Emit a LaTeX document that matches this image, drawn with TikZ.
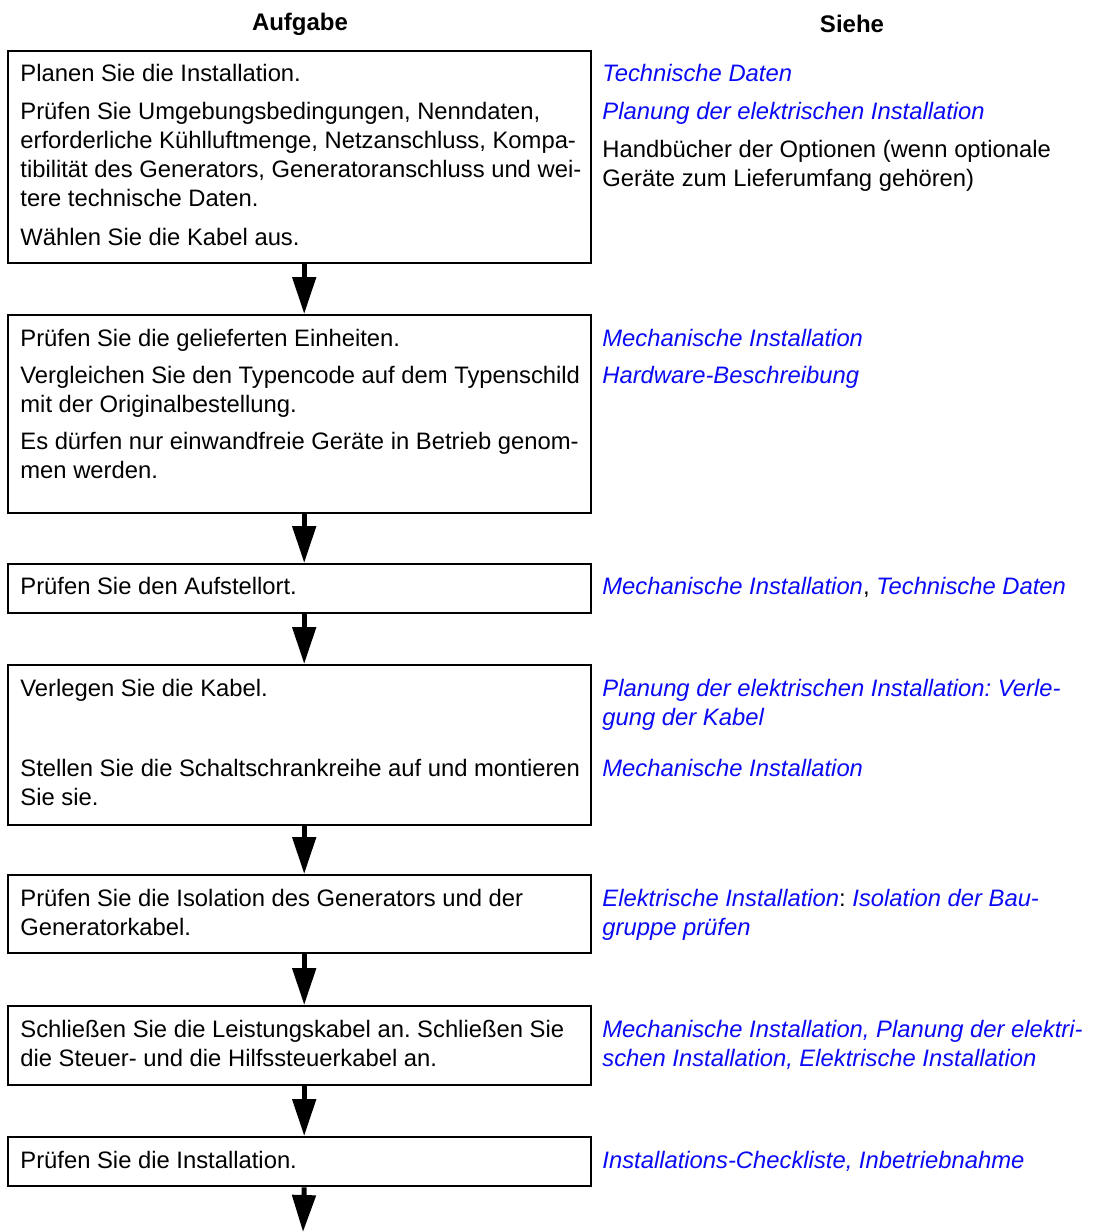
\documentclass[tikz,border=0pt]{standalone}
\usepackage{fontspec}
\setmainfont{Liberation Sans}
\usetikzlibrary{arrows.meta}
\definecolor{linkblue}{RGB}{10,10,245}
\tikzset{
  taskbox/.style={draw, line width=1.2pt, anchor=north west, minimum width=291.5pt, inner sep=0pt},
  tasktext/.style={anchor=base west, align=left, inner sep=0pt, font=\fontsize{11.9}{14.5}\selectfont\frenchspacing},
  seetext/.style={tasktext, text=linkblue, font=\fontsize{11.9}{14.5}\selectfont\frenchspacing\itshape},
  colhead/.style={inner sep=0pt, font=\fontsize{12}{14.5}\selectfont\bfseries},
  flow/.style={line width=2.5pt, -{Triangle[width=11.5pt,length=18.5pt]}}
}
\newcommand{\blk}[1]{{\color{black}\upshape #1}}

\begin{document}
\begin{tikzpicture}[x=0.5pt,y=-0.5pt]
  \useasboundingbox (0,0) rectangle (1093,1232);
  % column heads
  \node[colhead] (head-task) at (300,24) {Aufgabe};
  \node[colhead] (head-see) at (852,24) {Siehe};
  % task boxes
  \node[taskbox, minimum height=106pt] (plan) at (7,50) {};
  \node[taskbox, minimum height=99pt] (deliv) at (7,314) {};
  \node[taskbox, minimum height=24.5pt] (site) at (7,563) {};
  \node[taskbox, minimum height=80pt] (cable) at (7,664) {};
  \node[taskbox, minimum height=39pt] (insul) at (7,874) {};
  \node[taskbox, minimum height=39.5pt] (connect) at (7,1005) {};
  \node[taskbox, minimum height=24.5pt] (verify) at (7,1136) {};
  \coordinate (out) at (303,1232);
  % left column (node base = baseline of last line)
  \node[tasktext] (plan-do) at (20,245) {Planen Sie die Installation.\\[4.5pt]
    Prüfen Sie Umgebungsbedingungen, Nenndaten,\\
    erforderliche Kühlluftmenge, Netzanschluss, Kompa-\\
    tibilität des Generators, Generatoranschluss und wei-\\
    tere technische Daten.\\[5pt]
    Wählen Sie die Kabel aus.};
  \node[tasktext] (deliv-do) at (20,478) {Prüfen Sie die gelieferten Einheiten.\\[4pt]
    Vergleichen Sie den Typencode auf dem Typenschild\\
    mit der Originalbestellung.\\[4pt]
    Es dürfen nur einwandfreie Geräte in Betrieb genom-\\
    men werden.};
  \node[tasktext] (site-do) at (20,594) {Prüfen Sie den Aufstellort.};
  \node[tasktext] (cable-do) at (20,696) {Verlegen Sie die Kabel.};
  \node[tasktext] (cable-do2) at (20,805) {Stellen Sie die Schaltschrankreihe auf und montieren\\
    Sie sie.};
  \node[tasktext] (insul-do) at (20,935) {Prüfen Sie die Isolation des Generators und der\\
    Generatorkabel.};
  \node[tasktext] (connect-do) at (20,1066) {Schließen Sie die Leistungskabel an. Schließen Sie\\
    die Steuer- und die Hilfssteuerkabel an.};
  \node[tasktext] (verify-do) at (20,1168) {Prüfen Sie die Installation.};
  % right column
  \node[seetext] (plan-see) at (602,119) {Technische Daten\\[4.5pt]
    Planung der elektrischen Installation};
  \node[tasktext] (plan-see2) at (602,186) {Handbücher der Optionen (wenn optionale\\
    Geräte zum Lieferumfang gehören)};
  \node[seetext] (deliv-see) at (602,383) {Mechanische Installation\\[4pt]
    Hardware-Beschreibung};
  \node[seetext] (site-see) at (602,594) {Mechanische Installation\blk{,} Technische Daten};
  \node[seetext] (cable-see) at (602,725) {Planung der elektrischen Installation: Verle-\\
    gung der Kabel};
  \node[seetext] (cable-see2) at (602,776) {Mechanische Installation};
  \node[seetext] (insul-see) at (602,935) {Elektrische Installation\blk{:} Isolation der Bau-\\
    gruppe prüfen};
  \node[seetext] (connect-see) at (602,1066) {Mechanische Installation, Planung der elektri-\\
    schen Installation, Elektrische Installation};
  \node[seetext] (verify-see) at (602,1168) {Installations-Checkliste, Inbetriebnahme};
  % arrows
  \foreach \a/\b in {plan/deliv, deliv/site, site/cable, cable/insul, insul/connect, connect/verify}
    \draw[flow] ([xshift=2.25pt]\a.south) -- ([xshift=2.25pt]\b.north);
  \draw[flow] ([xshift=2.25pt]verify.south) -- (out);
\end{tikzpicture}
\end{document}
